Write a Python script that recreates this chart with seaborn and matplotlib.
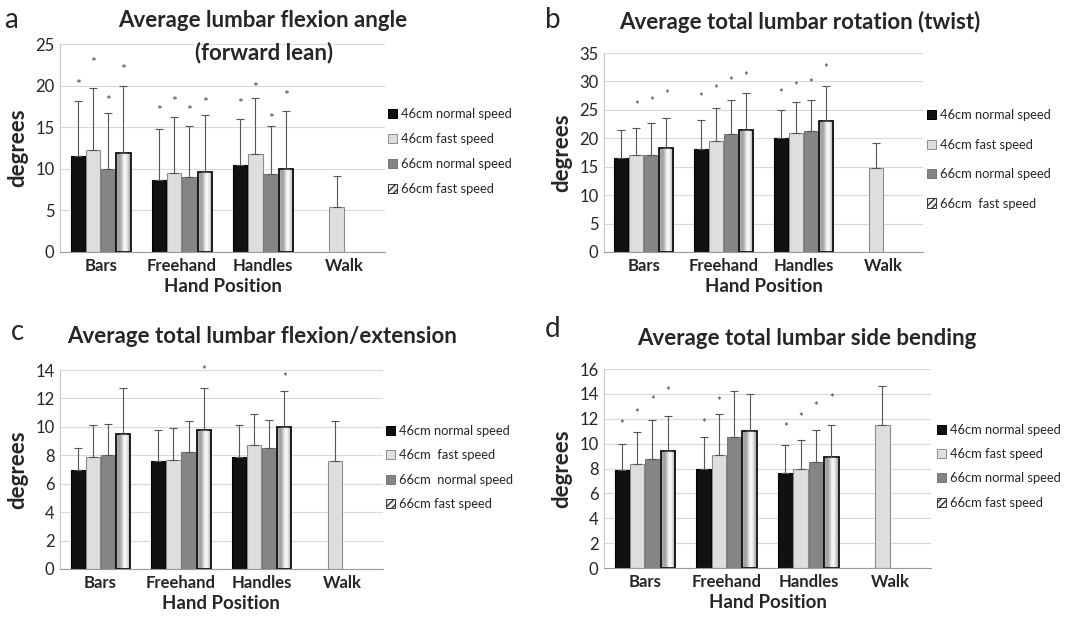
import matplotlib
matplotlib.use("Agg")
import matplotlib.pyplot as plt
from matplotlib.patches import Patch
import seaborn as sns
import pandas as pd
import numpy as np

nan = np.nan

categories = ["Bars", "Freehand", "Handles", "Walk"]
series = ["46cm normal speed", "46cm fast speed", "66cm normal speed", "66cm fast speed"]

# rows follow categories, columns follow series; nan = no bar / no asterisk
a_means = [[11.6, 12.3, 10.0, 11.9], [8.7, 9.5, 9.0, 9.6], [10.5, 11.8, 9.4, 10.0], [nan, 5.4, nan, nan]]
a_sd = [[6.5, 7.4, 6.7, 8.1], [6.1, 6.7, 6.2, 6.9], [5.5, 6.7, 5.7, 6.9], [nan, 3.7, nan, nan]]
a_stars = [[20.1, 22.7, 18.2, 21.9], [17.0, 18.0, 17.0, 17.9], [17.8, 19.7, 16.0, 18.7], [nan, nan, nan, nan]]

b_means = [[16.5, 17.1, 17.0, 18.3], [18.1, 19.6, 20.8, 21.5], [20.0, 20.9, 21.2, 23.1], [nan, 14.8, nan, nan]]
b_sd = [[4.9, 4.7, 5.7, 5.2], [5.1, 5.8, 5.9, 6.5], [5.0, 5.5, 5.5, 6.1], [nan, 4.3, nan, nan]]
b_stars = [[nan, 25.7, 26.5, 27.7], [27.2, 28.5, 30.0, 30.8], [27.8, 29.1, 29.7, 32.3], [nan, nan, nan, nan]]

c_means = [[7.0, 7.9, 8.0, 9.5], [7.6, 7.7, 8.2, 9.8], [7.9, 8.7, 8.5, 10.0], [nan, 7.6, nan, nan]]
c_sd = [[1.5, 2.2, 2.2, 3.2], [2.2, 2.2, 2.2, 2.9], [2.2, 2.2, 2.0, 2.5], [nan, 2.8, nan, nan]]
c_stars = [[nan, nan, nan, nan], [nan, nan, nan, 14.0], [nan, nan, nan, 13.5], [nan, nan, nan, nan]]

d_means = [[7.9, 8.4, 8.8, 9.4], [8.0, 9.1, 10.5, 11.0], [7.6, 8.0, 8.5, 8.9], [nan, 11.5, nan, nan]]
d_sd = [[2.1, 2.5, 3.1, 2.8], [2.5, 3.3, 3.7, 3.0], [2.3, 2.3, 2.6, 2.6], [nan, 3.1, nan, nan]]
d_stars = [[11.5, 12.4, 13.5, 14.2], [11.6, 13.4, nan, nan], [11.3, 12.1, 13.0, 13.6], [nan, nan, nan, nan]]

a_labels = ["46cm normal speed", "46cm fast speed", "66cm normal speed", "66cm fast speed"]
b_labels = ["46cm normal speed", "46cm fast speed", "66cm normal speed", "66cm  fast speed"]
c_labels = ["46cm normal speed", "46cm  fast speed", "66cm  normal speed", "66cm fast speed"]
d_labels = ["46cm normal speed", "46cm fast speed", "66cm normal speed", "66cm fast speed"]

sns.set_style("white")
plt.rcParams["font.family"] = ["Lato", "DejaVu Sans"]

fills = ["#111111", "#dedede", "#858585", "#d8d8d8"]
edges = ["#000000", "#8c8c8c", "#777777", "#111111"]

fig = plt.figure(figsize=(10.72, 6.17), dpi=100)


def to_long(means):
    rows = []
    for ci, cat in enumerate(categories):
        for si, s in enumerate(series):
            if not np.isnan(means[ci][si]):
                rows.append({"position": cat, "series": s, "degrees": means[ci][si]})
    return pd.DataFrame(rows)


def draw_panel(rect, means, sds, stars, ymax, ystep, labels, legend_xy, legend_spacing, star_size):
    ax = fig.add_axes(rect)
    df = to_long(means)
    sns.barplot(data=df, x="position", y="degrees", hue="series", order=categories,
                hue_order=series, palette=dict(zip(series, fills)), width=0.75, gap=0.06,
                errorbar=None, legend=False, ax=ax)

    bar_containers = list(ax.containers)[:4]
    grad = np.array([[0.7, 0.6, 0.7, 0.95, 1.0, 0.85, 0.65]])
    for si, cont in enumerate(bar_containers):
        for bar in cont:
            bar.set_edgecolor(edges[si])
            bar.set_linewidth(1.3 if si == 3 else 0.8)
            xc = bar.get_x() + bar.get_width() / 2
            h = bar.get_height()
            ci = int(round(xc))
            ax.errorbar(xc, h, yerr=[[0], [sds[ci][si]]], color="#555555", elinewidth=0.8,
                        capsize=3, capthick=0.8, zorder=2)
            if not np.isnan(stars[ci][si]):
                ax.text(xc, stars[ci][si], "*", ha="center", va="center", fontsize=star_size,
                        color="#444444")
            if si == 3:
                # shaded fill for the 66cm fast speed bars
                bar.set_facecolor("none")
                im = ax.imshow(grad, extent=[bar.get_x(), bar.get_x() + bar.get_width(), 0, h],
                               aspect="auto", cmap="gray", vmin=0, vmax=1, zorder=0.9,
                               interpolation="bicubic")
                im.set_clip_path(bar)

    ax.set_xlim(-0.5, 3.5)
    ax.set_ylim(0, ymax)
    ax.set_yticks(np.arange(0, ymax + 0.1, ystep))
    ax.yaxis.grid(True, color="#d9d9d9", lw=0.8)
    ax.set_axisbelow(True)
    sns.despine(ax=ax)
    ax.spines["left"].set_color("#c8c8c8")
    ax.spines["bottom"].set_color("#9a9a9a")
    ax.tick_params(length=0, labelsize=12, pad=4)
    for t in ax.get_xticklabels():
        t.set_fontweight("bold")
        t.set_fontsize(12)
    ax.set_xlabel("Hand Position", fontsize=13.5, fontweight="bold", labelpad=3)
    ax.set_ylabel("degrees", fontsize=16, fontweight="bold", labelpad=5)

    handles = [Patch(facecolor=fills[i], edgecolor=edges[i], lw=0.7) for i in range(3)]
    handles.append(Patch(facecolor="#eeeeee", edgecolor="#333333", hatch="/////", lw=0.7))
    ax.legend(handles, labels, loc="upper left", bbox_to_anchor=legend_xy,
              bbox_transform=fig.transFigure, frameon=False, fontsize=9.3,
              handlelength=0.7, handleheight=0.7, handletextpad=0.3,
              labelspacing=legend_spacing, borderpad=0, borderaxespad=0)
    return ax


draw_panel([0.056, 0.5916, 0.303, 0.337], a_means, a_sd, a_stars, 25, 5, a_labels, (0.362, 0.825), 1.0, 10)
draw_panel([0.5634, 0.5916, 0.2976, 0.3225], b_means, b_sd, b_stars, 35, 5, b_labels, (0.865, 0.823), 1.35, 8)
draw_panel([0.056, 0.0778, 0.301, 0.3225], c_means, c_sd, c_stars, 14, 2, c_labels, (0.360, 0.311), 0.95, 8)
draw_panel([0.5634, 0.0794, 0.305, 0.3225], d_means, d_sd, d_stars, 16, 2, d_labels, (0.874, 0.313), 0.95, 8)

# panel letters and titles
fig.text(0.004, 0.967, "a", fontsize=20, va="center", ha="left")
fig.text(0.245, 0.967, "Average lumbar flexion angle", fontsize=16, fontweight="bold", ha="center", va="center")
fig.text(0.246, 0.915, "(forward lean)", fontsize=16, fontweight="bold", ha="center", va="center")
fig.text(0.508, 0.967, "b", fontsize=20, va="center", ha="left")
fig.text(0.746, 0.964, "Average total lumbar rotation (twist)", fontsize=16, fontweight="bold", ha="center", va="center")
fig.text(0.010, 0.462, "c", fontsize=20, va="center", ha="left")
fig.text(0.244, 0.454, "Average total lumbar flexion/extension", fontsize=16, fontweight="bold", ha="center", va="center")
fig.text(0.508, 0.467, "d", fontsize=20, va="center", ha="left")
fig.text(0.753, 0.452, "Average total lumbar side bending", fontsize=16, fontweight="bold", ha="center", va="center")

fig.savefig("out.png", dpi=100, facecolor="white")
